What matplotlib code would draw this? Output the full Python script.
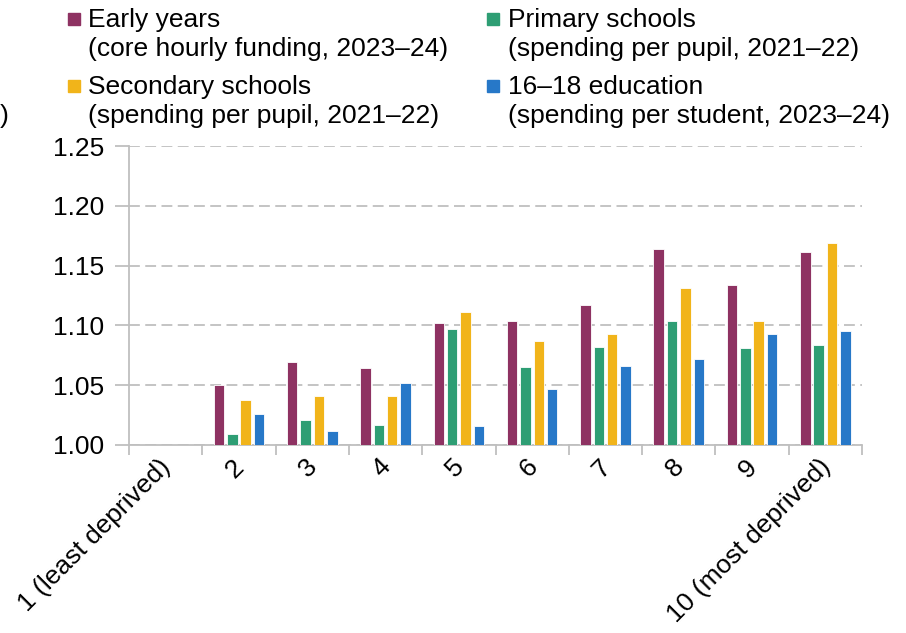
import numpy as np
import matplotlib
matplotlib.use("Agg")
import matplotlib.pyplot as plt
from matplotlib.patches import Rectangle
from matplotlib.transforms import ScaledTranslation

plt.rcParams["font.family"] = ["Liberation Sans", "DejaVu Sans"]
FS = 19

# deprivation deciles
deciles = ["1 (least deprived)", "2", "3", "4", "5", "6", "7", "8", "9",
           "10 (most deprived)"]

# funding relative to least deprived decile
early_years = [1.000, 1.050, 1.069, 1.064, 1.102, 1.104, 1.117, 1.164, 1.134, 1.161]
primary = [1.000, 1.009, 1.021, 1.017, 1.097, 1.065, 1.082, 1.104, 1.081, 1.084]
secondary = [1.000, 1.038, 1.041, 1.041, 1.111, 1.087, 1.093, 1.131, 1.104, 1.169]
post16 = [1.000, 1.026, 1.012, 1.052, 1.016, 1.047, 1.066, 1.072, 1.093, 1.095]

series = [
    ("Early years", "(core hourly funding, 2023\u201324)", early_years, "#8E3262"),
    ("Primary schools", "(spending per pupil, 2021\u201322)", primary, "#2E9E74"),
    ("Secondary schools", "(spending per pupil, 2021\u201322)", secondary, "#F1B41A"),
    ("16\u201318 education", "(spending per student, 2023\u201324)", post16, "#2778C8"),
]

W, H = 906, 633
fig = plt.figure(figsize=(W / 100, H / 100), dpi=100)
ax = fig.add_axes([129 / W, 1 - 445 / H, (862 - 129) / W, (445 - 146) / H])

x = np.arange(len(deciles))
step, width = 0.182, 0.143
for i, (_, _, vals, col) in enumerate(series):
    vals = np.array(vals)
    ax.bar(x + (i - 1.5) * step, vals - 1.0, bottom=1.0, width=width,
           color=col, edgecolor="white", linewidth=0.6, zorder=3)

ax.set_xlim(-0.5, len(deciles) - 0.5)
ax.set_ylim(1.0, 1.25)
yt = np.arange(1.0, 1.2501, 0.05)
ax.set_yticks(yt)
ax.set_yticklabels([f"{v:.2f}" for v in yt])

ax.yaxis.grid(True, color="#BFBFBF", linestyle=(0, (6, 3)), linewidth=1.3, zorder=0)
ax.set_axisbelow(True)

# category boundaries as ticks, labels at centres
ax.set_xticks(np.arange(-0.5, len(deciles)))
ax.set_xticklabels([])
ax.set_xticks(x, minor=True)
ax.set_xticklabels(deciles, minor=True, rotation=45, ha="right", va="top",
                   fontsize=FS)
ax.tick_params(axis="x", which="major", length=7, width=1.3, color="#BFBFBF")
ax.tick_params(axis="x", which="minor", length=0, pad=7)
offset = ScaledTranslation(10 / 100, 0, fig.dpi_scale_trans)
for lbl in ax.get_xticklabels(minor=True):
    lbl.set_transform(lbl.get_transform() + offset)

ax.tick_params(axis="y", length=10, width=1.3, color="#BFBFBF", labelsize=FS,
               pad=8)

for side in ("top", "right"):
    ax.spines[side].set_visible(False)
for side in ("left", "bottom"):
    ax.spines[side].set_color("#BFBFBF")
    ax.spines[side].set_linewidth(1.3)

# legend drawn by hand, two columns
cols_px = [(68, 88), (487, 508)]
rows_px = [(27, 56), (94, 123)]
order = [(0, 0), (1, 0), (0, 1), (1, 1)]
for (name, note, _, col), (c, r) in zip(series, order):
    mx, tx = cols_px[c]
    b1, b2 = rows_px[r]
    fig.patches.append(Rectangle((mx / W, 1 - (b1 - 2) / H), 12 / W, 12 / H,
                                 transform=fig.transFigure, color=col))
    fig.text(tx / W, 1 - b1 / H, name, fontsize=FS, va="baseline", ha="left")
    fig.text(tx / W, 1 - b2 / H, note, fontsize=FS, va="baseline", ha="left")

fig.text(0, 1 - 123 / H, ")", fontsize=FS, va="baseline", ha="left")

fig.savefig("out.png", dpi=100)
